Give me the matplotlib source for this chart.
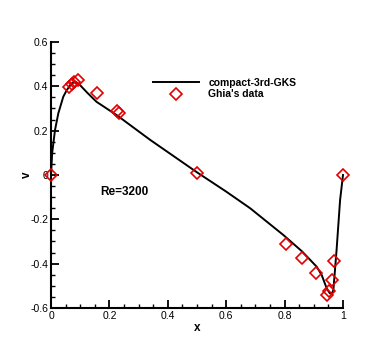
import matplotlib
matplotlib.use('Agg')
import matplotlib.pyplot as plt
from matplotlib.ticker import MultipleLocator, FuncFormatter

plt.rcParams['font.family'] = ['Liberation Sans', 'DejaVu Sans']

# compact-3rd-GKS solution
x_line = [0.0, 0.004, 0.0137, 0.025, 0.042, 0.054, 0.071, 0.085, 0.099, 0.125, 0.156,
          0.225, 0.34, 0.5, 0.6, 0.682, 0.796, 0.86, 0.91, 0.927, 0.944, 0.955,
          0.962, 0.967, 0.978, 0.99, 1.0]
v_line = [0.0, 0.10, 0.203, 0.278, 0.353, 0.383, 0.414, 0.42, 0.406, 0.37, 0.33,
          0.27, 0.158, 0.012, -0.075, -0.150, -0.271, -0.345, -0.414, -0.451, -0.511, -0.534,
          -0.535, -0.519, -0.338, -0.113, 0.0]

# Ghia's data, Re=3200
x_ghia = [1.0, 0.9688, 0.9609, 0.9531, 0.9453, 0.9063, 0.8594, 0.8047, 0.5,
          0.2344, 0.2266, 0.1563, 0.0938, 0.0781, 0.0703, 0.0625, 0.0]
v_ghia = [0.0, -0.39017, -0.47425, -0.52357, -0.54053, -0.44307, -0.37401,
          -0.31184, 0.00999, 0.28188, 0.29030, 0.37119, 0.42768, 0.41906,
          0.40917, 0.39560, 0.0]

fig = plt.figure(figsize=(3.9, 3.47), dpi=100)
ax = fig.add_axes([0.1308, 0.1124, 0.7487, 0.7666])

ax.plot(x_line, v_line, color='black', lw=1.4, label='compact-3rd-GKS', clip_on=False)
ax.plot(x_ghia, v_ghia, ls='none', marker='D', ms=6, mfc='none', mec='#e00000',
        mew=1.2, label="Ghia's data", clip_on=False, zorder=3)

ax.set_xlim(0, 1)
ax.set_ylim(-0.6, 0.6)
ax.xaxis.set_major_locator(MultipleLocator(0.2))
ax.xaxis.set_minor_locator(MultipleLocator(0.05))
ax.yaxis.set_major_locator(MultipleLocator(0.2))
ax.yaxis.set_minor_locator(MultipleLocator(0.05))
fmt = FuncFormatter(lambda v, p: '%g' % round(v, 3))
ax.xaxis.set_major_formatter(fmt)
ax.yaxis.set_major_formatter(fmt)

for s in ['top', 'right']:
    ax.spines[s].set_visible(False)
ax.spines['left'].set_linewidth(1.5)
ax.spines['bottom'].set_linewidth(1.5)
ax.tick_params(direction='in', which='major', length=6, width=1.3, labelsize=7.5, pad=2)
ax.tick_params(direction='in', which='minor', length=3, width=1.0)

ax.set_xlabel('x', fontweight='bold', fontsize=8.5, labelpad=1)
ax.set_ylabel('v', fontweight='bold', fontsize=8.5, labelpad=-2)

ax.text(0.17, -0.077, 'Re=3200', fontweight='bold', fontsize=8.5, va='center')

ax.legend(loc='upper left', bbox_to_anchor=(0.335, 0.88), frameon=False,
          prop={'weight': 'bold', 'size': 7.5}, handlelength=4.4,
          handletextpad=0.9, labelspacing=0.12, borderaxespad=0)

fig.savefig('out.png', dpi=100)
